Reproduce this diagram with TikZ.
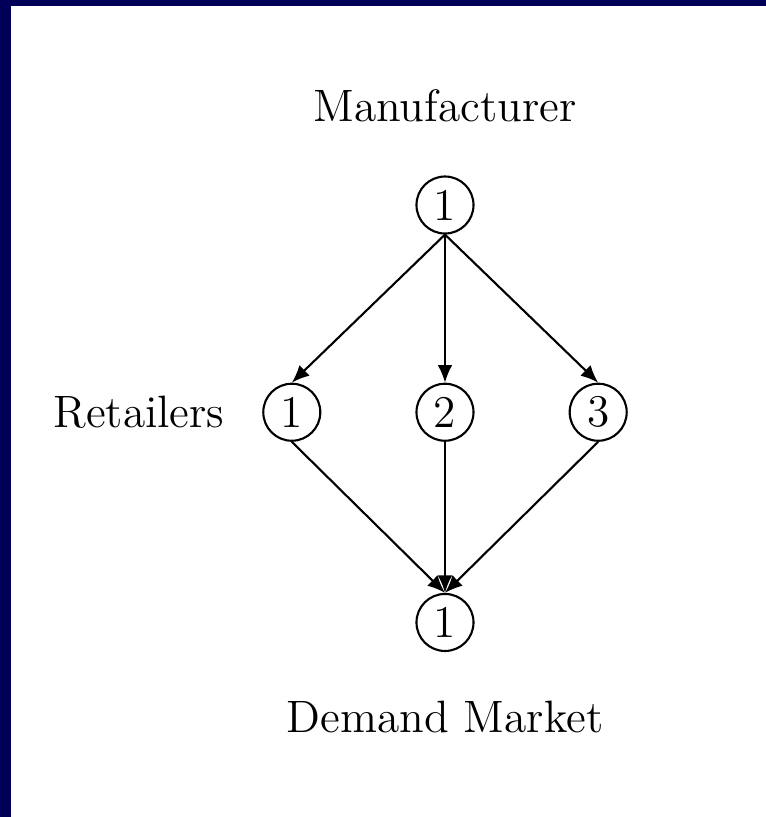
\documentclass[tikz,border=0pt]{standalone}
\usepackage{tikz}
\usetikzlibrary{arrows.meta,positioning}
\definecolor{slideblue}{RGB}{0,0,88}

\begin{document}
\begin{tikzpicture}[x=0.01cm,y=-0.01cm,
  node distance=14.8mm and 9.4mm,
  every node/.style={font=\fontsize{12.9}{15}\selectfont},
  stage/.style={circle,draw,line width=0.6pt,minimum size=5.7mm,inner sep=0pt},
  lbl/.style={inner sep=0pt},
  arr/.style={-{Latex[length=5pt,width=4.2pt]},line width=0.6pt}]
  % slide frame
  \fill[slideblue] (0,0) rectangle (766,817);
  \fill[white] (11,6) rectangle (766,817);
  \useasboundingbox (0,0) rectangle (766,817);
  % stages
  \node[stage] (m1) at (445,205) {1};
  \node[stage,below=of m1] (r2) {2};
  \node[stage,left=of r2] (r1) {1};
  \node[stage,right=of r2] (r3) {3};
  \node[stage,below=15.1mm of r2] (d1) {1};
  % tier labels
  \node[lbl,above=5.3mm of m1] (mfr) {Manufacturer};
  \node[lbl,left=3.7mm of r1] (ret) {Retailers};
  \node[lbl,below=4.8mm of d1] (dem) {Demand Market};
  % flows
  \draw[arr] (m1.south) -- (r1.north);
  \draw[arr] (m1.south) -- (r2.north);
  \draw[arr] (m1.south) -- (r3.north);
  \draw[arr] (r1.south) -- (d1.north);
  \draw[arr] (r2.south) -- (d1.north);
  \draw[arr] (r3.south) -- (d1.north);
\end{tikzpicture}
\end{document}
